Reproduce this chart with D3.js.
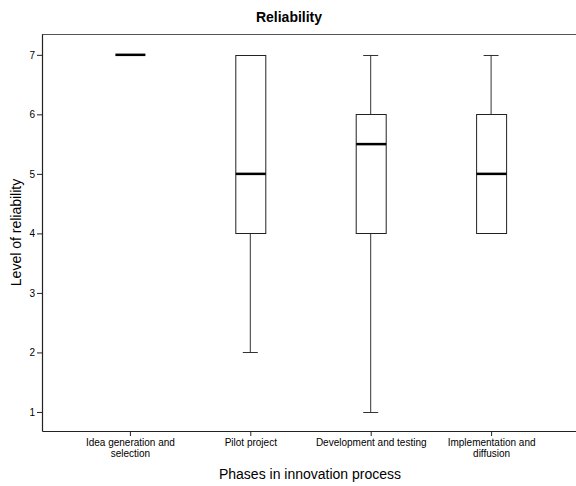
<!DOCTYPE html>
<html>
<head>
<meta charset="utf-8">
<script src="https://cdn.jsdelivr.net/npm/d3@7"></script>
<style>
  body { margin: 0; background: #fff; }
  svg { display: block; font-family: 'Liberation Sans', Arial, sans-serif; }
</style>
</head>
<body>
<div id="chart"></div>
<script>
// phases on the x axis (labels split into lines)
const phases = ['Idea generation and selection', 'Pilot project', 'Development and testing', 'Implementation and diffusion'];
const phaseLines = [['Idea generation and', 'selection'], ['Pilot project'], ['Development and testing'], ['Implementation and', 'diffusion']];

// box plot summary per phase
const whiskerLow = [7, 2, 1, 4];
const q1 = [7, 4, 4, 4];
const median = [7, 5, 5.5, 5];
const q3 = [7, 7, 6, 6];
const whiskerHigh = [7, 7, 7, 7];

const yTicks = [1, 2, 3, 4, 5, 6, 7];

const width = 576;
const height = 486;
const plot = { left: 42, top: 34, right: 579, bottom: 431 };

const data = phases.map((p, i) => ({
  phase: p,
  lines: phaseLines[i],
  lo: whiskerLow[i],
  q1: q1[i],
  med: median[i],
  q3: q3[i],
  hi: whiskerHigh[i],
}));

const svg = d3.select('#chart').append('svg').attr('width', width).attr('height', height);

const x = d3.scalePoint().domain(phases).range([plot.left, plot.right]).padding(0.73);
const y = d3.scaleLinear().domain([0.68, 7.35]).range([plot.bottom, plot.top]);

const boxW = 30;
const capW = 15;

// frame (top line + axes)
svg.append('line')
  .attr('x1', plot.left).attr('x2', plot.right)
  .attr('y1', plot.top + 0.5).attr('y2', plot.top + 0.5)
  .attr('stroke', '#555').attr('stroke-width', 1.2);

const gy = svg.append('g').attr('transform', `translate(${plot.left},0)`);
gy.call(d3.axisLeft(y).tickValues(yTicks).tickFormat(d3.format('d')).tickSize(5).tickPadding(2).tickSizeOuter(0));
gy.select('.domain').attr('stroke', '#222').attr('stroke-width', 1.2);
gy.selectAll('.tick line').attr('stroke', '#222');
gy.selectAll('.tick text').attr('font-size', 10).attr('fill', '#000').attr('font-family', 'Liberation Sans, Arial, sans-serif');

const gx = svg.append('g').attr('transform', `translate(0,${plot.bottom})`);
gx.call(d3.axisBottom(x).tickSize(5).tickSizeOuter(0).tickFormat(''));
gx.select('.domain').attr('stroke', '#222').attr('stroke-width', 1.2);
gx.selectAll('.tick line').attr('stroke', '#222');
gx.selectAll('.tick')
  .data(data)
  .append('text')
  .attr('fill', '#000')
  .attr('font-size', 10)
  .attr('text-anchor', 'middle')
  .selectAll('tspan')
  .data((d) => d.lines)
  .join('tspan')
  .attr('x', 0)
  .attr('y', (d, i) => 15 + i * 11)
  .text((d) => d);

// boxes
const boxes = svg.append('g').selectAll('g').data(data).join('g')
  .attr('transform', (d) => `translate(${x(d.phase)},0)`);

// whiskers
boxes.filter((d) => d.lo < d.q1).append('line')
  .attr('x1', 0).attr('x2', 0)
  .attr('y1', (d) => y(d.lo)).attr('y2', (d) => y(d.q1))
  .attr('stroke', '#333');
boxes.filter((d) => d.hi > d.q3).append('line')
  .attr('x1', 0).attr('x2', 0)
  .attr('y1', (d) => y(d.hi)).attr('y2', (d) => y(d.q3))
  .attr('stroke', '#333');
boxes.filter((d) => d.lo < d.q1).append('line')
  .attr('x1', -capW / 2).attr('x2', capW / 2)
  .attr('y1', (d) => Math.round(y(d.lo)) + 0.5).attr('y2', (d) => Math.round(y(d.lo)) + 0.5)
  .attr('stroke', '#333');
boxes.filter((d) => d.hi > d.q3).append('line')
  .attr('x1', -capW / 2).attr('x2', capW / 2)
  .attr('y1', (d) => Math.round(y(d.hi)) + 0.5).attr('y2', (d) => Math.round(y(d.hi)) + 0.5)
  .attr('stroke', '#333');

boxes.filter((d) => d.q3 > d.q1).append('rect')
  .attr('x', -boxW / 2 + 0.5)
  .attr('width', boxW)
  .attr('y', (d) => Math.round(y(d.q3)) + 0.5)
  .attr('height', (d) => Math.round(y(d.q1)) - Math.round(y(d.q3)))
  .attr('fill', '#fff')
  .attr('stroke', '#222');

boxes.append('line')
  .attr('x1', -boxW / 2 + 0.5).attr('x2', boxW / 2 + 0.5)
  .attr('y1', (d) => y(d.med)).attr('y2', (d) => y(d.med))
  .attr('stroke', '#000').attr('stroke-width', 2.5);

// titles
svg.append('text')
  .attr('x', 289).attr('y', 22)
  .attr('text-anchor', 'middle')
  .attr('font-size', 14).attr('font-weight', 'bold')
  .text('Reliability');

svg.append('text')
  .attr('transform', `translate(21,${(plot.top + plot.bottom) / 2}) rotate(-90)`)
  .attr('text-anchor', 'middle')
  .attr('font-size', 14)
  .text('Level of reliability');

svg.append('text')
  .attr('x', 310).attr('y', 479)
  .attr('text-anchor', 'middle')
  .attr('font-size', 14)
  .text('Phases in innovation process');
</script>
</body>
</html>
